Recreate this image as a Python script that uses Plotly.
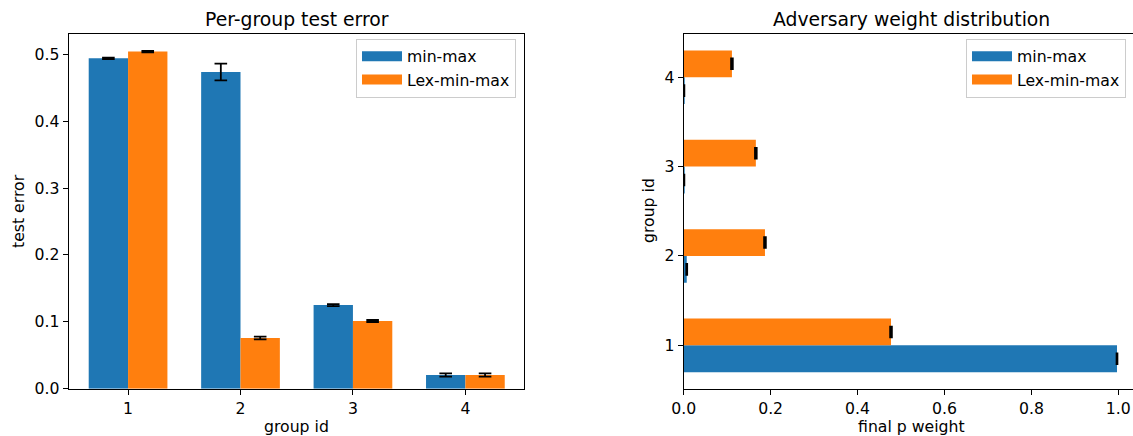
import plotly.graph_objects as go

groups = [1, 2, 3, 4]
series_names = ["min-max", "Lex-min-max"]
colors = ["#1f77b4", "#ff7f0e"]

# Per-group test error
err_minmax = [0.494, 0.4735, 0.125, 0.0205]
err_minmax_sd = [0.001, 0.0125, 0.0015, 0.0025]
err_lex = [0.504, 0.0758, 0.1012, 0.0205]
err_lex_sd = [0.001, 0.002, 0.0015, 0.0025]

# Adversary final p weights
w_minmax = [0.997, 0.007, 0.001, 0.001]
w_minmax_sd = [0.001, 0.001, 0.0005, 0.0005]
w_lex = [0.477, 0.187, 0.166, 0.111]
w_lex_sd = [0.002, 0.002, 0.002, 0.002]

W, H = 1133, 436
FONT = "DejaVu Sans"
FS = 15.7

fig = go.Figure()

def ebar(vals):
    return dict(type="data", array=vals, visible=True, color="black",
                thickness=1.8, width=6.3)

# left panel: vertical grouped bars
for name, col, vals, sd, off in [
    (series_names[0], colors[0], err_minmax, err_minmax_sd, -0.35),
    (series_names[1], colors[1], err_lex, err_lex_sd, 0.0),
]:
    fig.add_trace(go.Bar(x=groups, y=vals, width=0.35, offset=off,
                         marker=dict(color=col, line=dict(width=0)),
                         error_y=ebar(sd), name=name, showlegend=False,
                         xaxis="x", yaxis="y"))

# right panel: horizontal grouped bars
for name, col, vals, sd, off in [
    (series_names[0], colors[0], w_minmax, w_minmax_sd, -0.3),
    (series_names[1], colors[1], w_lex, w_lex_sd, 0.0),
]:
    fig.add_trace(go.Bar(y=groups, x=vals, width=0.3, offset=off, orientation="h",
                         marker=dict(color=col, line=dict(width=0)),
                         error_x=ebar(sd), name=name, showlegend=False,
                         xaxis="x2", yaxis="y2"))

# legend swatches (rectangle-like entries)
for lg in ["legend", "legend2"]:
    for name, col in zip(series_names, colors):
        fig.add_trace(go.Scatter(x=[None], y=[None], mode="lines",
                                 line=dict(color=col, width=12), name=name,
                                 legend=lg, showlegend=True,
                                 xaxis="x" if lg == "legend" else "x2",
                                 yaxis="y" if lg == "legend" else "y2"))

def px_x(p):
    return p / W

def px_y(p):
    return 1 - p / H

axis_common = dict(showgrid=False, zeroline=False, showline=True, linecolor="black",
                   linewidth=1, ticks="outside", ticklen=5, tickwidth=1, tickcolor="black",
                   automargin=False,
                   tickfont=dict(family=FONT, size=FS, color="black"))

ydom = [px_y(388.7), px_y(33.7)]

legend_common = dict(font=dict(family=FONT, size=FS, color="black"), bgcolor="white",
                     bordercolor="#cccccc", borderwidth=1, xanchor="right", yanchor="top",
                     itemwidth=40, traceorder="normal")

fig.update_layout(
    width=W, height=H, margin=dict(l=0, r=0, t=0, b=0, autoexpand=False),
    paper_bgcolor="white", plot_bgcolor="white",
    barmode="overlay",
    font=dict(family=FONT, size=FS, color="black"),
    xaxis=dict(domain=[px_x(68.7), px_x(524.3)], range=[0.472, 4.524],
               tickvals=groups, ticktext=[str(g) for g in groups], mirror=True,
               anchor="y", **axis_common),
    yaxis=dict(domain=ydom, range=[0, 0.5308], tickvals=[0, 0.1, 0.2, 0.3, 0.4, 0.5],
               tickformat=".1f", mirror=True, anchor="x", **axis_common),
    xaxis2=dict(domain=[px_x(683.7), 1.0], range=[0, 1.0338],
                tickvals=[0, 0.2, 0.4, 0.6, 0.8, 1.0], tickformat=".1f", mirror=True,
                anchor="y2", **axis_common),
    yaxis2=dict(domain=ydom, range=[0.515, 4.487], tickvals=groups,
                ticktext=[str(g) for g in groups], mirror=False, anchor="x2",
                **axis_common),
    legend=dict(x=px_x(516), y=px_y(38.5), **legend_common),
    legend2=dict(x=px_x(1126), y=px_y(38.5), **legend_common),
)

ann_font = dict(family=FONT, size=FS, color="black")
title_font = dict(family=FONT, size=18.8, color="black")
annotations = [
    dict(text="Per-group test error", x=px_x(296.5), y=px_y(19), font=title_font),
    dict(text="Adversary weight distribution", x=px_x(911), y=px_y(19), font=title_font),
    dict(text="group id", x=px_x(296.5), y=px_y(426), font=ann_font),
    dict(text="final p weight", x=px_x(911), y=px_y(426), font=ann_font),
    dict(text="test error", x=px_x(18), y=px_y(211), font=ann_font, textangle=-90),
    dict(text="group id", x=px_x(648), y=px_y(211), font=ann_font, textangle=-90),
]
for a in annotations:
    fig.add_annotation(xref="paper", yref="paper", showarrow=False,
                       xanchor="center", yanchor="middle", **a)

fig.write_html("out.html", config={"displayModeBar": False},
               post_script="document.body.style.margin='0';document.body.style.overflow='hidden';")
